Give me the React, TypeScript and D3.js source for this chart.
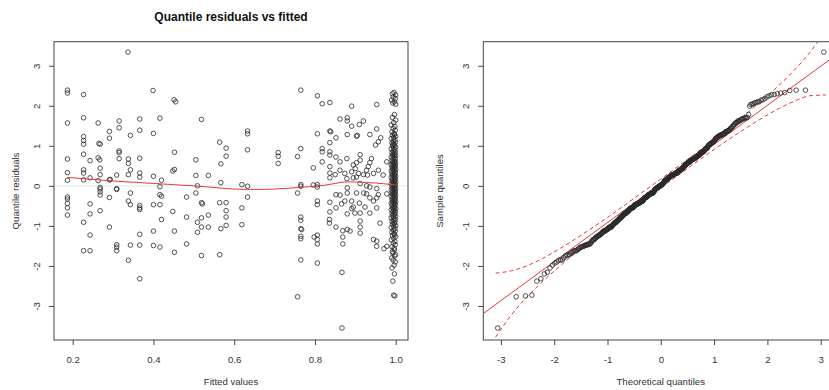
import { useEffect, useRef } from 'react';
import * as d3 from 'd3';

const width = 829;
const height = 390;

// [fitted value, quantile residual]
const lowFittedPoints: [number, number][] = [
  [0.337, 3.34], [0.187, 2.39], [0.187, 2.32], [0.227, 2.28], [0.399, 2.38], [0.451, 2.15], [0.455, 2.1],
  [0.187, 1.57], [0.227, 1.7], [0.263, 1.57], [0.315, 1.62], [0.315, 1.45], [0.291, 1.36], [0.291, 1.19],
  [0.343, 1.26], [0.366, 1.67], [0.366, 1.39], [0.416, 1.69], [0.4, 1.31], [0.519, 1.66], [0.227, 1.23],
  [0.227, 1.13], [0.227, 1.04], [0.265, 1.06], [0.268, 1.04], [0.315, 0.87], [0.315, 0.83], [0.227, 0.79],
  [0.187, 0.67], [0.243, 0.63], [0.263, 0.7], [0.267, 0.65], [0.315, 0.68], [0.338, 0.67], [0.338, 0.56],
  [0.366, 0.69], [0.452, 0.84], [0.505, 0.65], [0.564, 1.09], [0.58, 0.94], [0.58, 0.74], [0.567, 0.55],
  [0.187, 0.33], [0.227, 0.4], [0.227, 0.32], [0.268, 0.44], [0.268, 0.28], [0.343, 0.4], [0.338, 0.28],
  [0.309, 0.27], [0.366, 0.32], [0.366, 0.22], [0.4, 0.24], [0.448, 0.37], [0.452, 0.41], [0.505, 0.26],
  [0.536, 0.26], [0.187, 0.14], [0.227, 0.15], [0.243, 0.2], [0.263, 0.13], [0.291, 0.15], [0.293, 0.16],
  [0.42, 0.14], [0.567, 0.08], [0.268, -0.04], [0.268, -0.08], [0.309, -0.07], [0.416, -0.02], [0.509, 0.0],
  [0.187, -0.28], [0.187, -0.33], [0.187, -0.44], [0.187, -0.55], [0.187, -0.73], [0.268, -0.15], [0.268, -0.23],
  [0.309, -0.09], [0.291, -0.29], [0.343, -0.18], [0.338, -0.38], [0.343, -0.47], [0.366, -0.49], [0.366, -0.55],
  [0.366, -0.59], [0.416, -0.22], [0.42, -0.26], [0.4, -0.47], [0.416, -0.47], [0.243, -0.45], [0.243, -0.7],
  [0.268, -0.62], [0.227, -0.91], [0.291, -1.03], [0.243, -1.23], [0.227, -1.62], [0.243, -1.62], [0.309, -1.47],
  [0.309, -1.53], [0.309, -1.62], [0.343, -1.48], [0.366, -1.48], [0.366, -1.21], [0.4, -1.13], [0.4, -1.49],
  [0.416, -1.53], [0.42, -0.84], [0.448, -0.64], [0.452, -1.13], [0.452, -1.66], [0.338, -1.86], [0.366, -2.32],
  [0.482, -0.28], [0.482, -0.78], [0.482, -1.45], [0.505, -0.18], [0.519, -0.42], [0.521, -0.45], [0.519, -0.8],
  [0.509, -0.91], [0.519, -1.03], [0.536, -1.03], [0.509, -1.16], [0.536, -0.73], [0.519, -1.74], [0.564, -0.42],
  [0.58, -0.42], [0.58, -0.62], [0.58, -0.78], [0.567, -1.07], [0.58, -0.99], [0.564, -1.72],
];

const midFittedPoints: [number, number][] = [
  [0.633, 1.37], [0.633, 1.3], [0.633, 0.9], [0.709, 0.83], [0.709, 0.74], [0.709, 0.56], [0.765, 0.93],
  [0.757, 0.73], [0.765, 2.39], [0.765, 0.03], [0.765, -0.01], [0.619, 0.03], [0.633, -0.01], [0.633, -0.28],
  [0.619, -0.55], [0.619, -0.97], [0.757, -0.18], [0.765, -0.78], [0.765, -0.86], [0.765, -1.07], [0.767, -1.09],
  [0.765, -1.26], [0.765, -1.32], [0.765, -1.85], [0.757, -2.77],
];

const highFittedPoints: [number, number][] = [
  [0.806, 2.25], [0.818, 2.05], [0.837, 2.08], [0.891, 1.99], [0.953, 2.03], [0.806, 1.3], [0.837, 1.37],
  [0.839, 1.35], [0.862, 1.67], [0.88, 1.7], [0.88, 1.62], [0.891, 1.49], [0.91, 1.53], [0.92, 1.62],
  [0.852, 1.2], [0.88, 1.28], [0.903, 1.24], [0.905, 1.26], [0.936, 1.28], [0.953, 1.42], [0.963, 1.2],
  [0.957, 1.1], [0.95, 1.02], [0.818, 0.93], [0.818, 0.85], [0.837, 1.08], [0.837, 0.85], [0.837, 0.77],
  [0.852, 0.72], [0.818, 0.6], [0.862, 0.6], [0.879, 0.68], [0.912, 0.78], [0.912, 0.64], [0.903, 0.58],
  [0.895, 0.52], [0.94, 0.68], [0.936, 0.58], [0.932, 0.48], [0.928, 0.39], [0.796, 0.45], [0.837, 0.48],
  [0.862, 0.39], [0.874, 0.31], [0.837, 0.32], [0.85, 0.28], [0.837, 0.2], [0.891, 0.35], [0.9, 0.43],
  [0.908, 0.31], [0.879, 0.18], [0.895, 0.2], [0.903, 0.22], [0.92, 0.28], [0.93, 0.27], [0.945, 0.31],
  [0.957, 0.39], [0.969, 0.27], [0.978, 0.6], [0.796, 0.02], [0.806, 0.03], [0.806, -0.03], [0.88, -0.05],
  [0.912, 0.06], [0.928, 0.0], [0.936, -0.03], [0.953, -0.07],
  [0.806, -0.38], [0.806, -0.47], [0.798, -1.28], [0.806, -1.23], [0.806, -1.34], [0.806, -1.45], [0.806, -1.93],
  [0.837, -0.41], [0.837, -0.65], [0.836, -0.84], [0.836, -0.93], [0.852, -0.22], [0.862, -0.23], [0.852, -0.55],
  [0.866, -0.45], [0.874, -0.38], [0.852, -1.03], [0.869, -1.12], [0.869, -1.28], [0.869, -1.45], [0.88, -0.18],
  [0.88, -0.7], [0.891, -0.57], [0.903, -0.18], [0.88, -1.09], [0.887, -1.13], [0.867, -2.16], [0.867, -3.55],
  [0.891, -0.38], [0.895, -0.53], [0.91, -0.43], [0.899, -0.68], [0.912, -0.68], [0.912, -0.88], [0.912, -1.03],
  [0.912, -1.18], [0.921, -0.18], [0.928, -0.2], [0.936, -0.3], [0.945, -0.38], [0.953, -0.3], [0.957, -0.22],
  [0.924, -0.53], [0.936, -0.68], [0.953, -0.55], [0.961, -0.93], [0.945, -1.34], [0.953, -1.38], [0.953, -1.51],
  [0.971, -1.57], [0.978, -1.51], [0.978, -0.2],
];

// the dense column at fitted ~ 1.0
const nearOnePoints: [number, number][] = [
  [0.996, 2.33], [0.992, 2.3], [1.0, 2.27], [0.994, 2.22], [0.999, 2.18], [0.99, 2.14], [0.997, 2.1], [0.993, 2.07], [1.0, 2.04],
  [0.998, -2.75], [0.995, -2.73], [0.993, -2.38], [0.997, -2.2], [0.991, -2.05], [0.996, -1.98], [0.999, -1.9],
  [0.994, -1.85], [0.99, -1.8], [0.997, -1.75], [1.0, -1.72], [0.993, -1.68],
  [0.997, 1.78], [0.992, 1.71], [1.0, 1.64], [0.995, 1.58], [0.989, 1.52],
  [0.998, 1.48], [0.994, 1.44], [0.999, 1.39], [0.991, 1.35], [0.996, 1.31], [0.997, 1.28], [0.992, 1.26],
  [1.0, 1.24], [0.995, 1.21], [0.989, 1.18], [0.998, 1.15], [0.994, 1.12], [0.999, 1.09], [0.991, 1.07], [0.996, 1.05], [0.993, 1.03], [0.997, 1.01],
  [0.992, 0.99], [1.0, 0.97], [0.995, 0.94], [0.989, 0.92], [0.998, 0.9], [0.994, 0.87], [0.999, 0.85], [0.991, 0.83], [0.996, 0.81], [0.997, 0.79], [0.992, 0.77], [1.0, 0.76],
  [0.995, 0.74], [0.989, 0.72], [0.998, 0.7], [0.994, 0.68], [0.999, 0.66], [0.991, 0.64], [0.996, 0.62], [0.997, 0.6], [0.992, 0.58], [1.0, 0.57], [0.995, 0.55], [0.989, 0.53], [0.998, 0.52], [0.994, 0.51],
  [0.999, 0.49], [0.991, 0.47], [0.996, 0.46], [0.997, 0.44], [0.992, 0.42], [1.0, 0.41], [0.995, 0.39], [0.989, 0.37], [0.998, 0.35], [0.994, 0.34], [0.999, 0.32], [0.991, 0.3], [0.996, 0.29], [0.997, 0.27], [0.992, 0.26],
  [1.0, 0.24], [0.995, 0.23], [0.989, 0.21], [0.998, 0.2], [0.994, 0.18], [0.999, 0.17], [0.991, 0.15], [0.996, 0.13], [0.997, 0.12], [0.992, 0.1], [1.0, 0.09], [0.995, 0.07], [0.989, 0.05], [0.998, 0.04], [0.994, 0.02], [0.999, 0.01],
  [0.991, -0.01], [0.996, -0.03], [0.997, -0.04], [0.992, -0.06], [1.0, -0.07], [0.995, -0.09], [0.989, -0.1], [0.998, -0.12], [0.994, -0.14], [0.999, -0.15], [0.991, -0.17], [0.996, -0.18], [0.997, -0.2], [0.992, -0.21], [1.0, -0.23], [0.995, -0.24],
  [0.989, -0.26], [0.998, -0.28], [0.994, -0.29], [0.999, -0.31], [0.991, -0.33], [0.996, -0.34], [0.997, -0.36], [0.992, -0.38], [1.0, -0.39], [0.995, -0.41], [0.989, -0.43], [0.998, -0.44], [0.994, -0.46], [0.999, -0.47], [0.991, -0.49],
  [0.996, -0.51], [0.997, -0.53], [0.992, -0.55], [1.0, -0.57], [0.995, -0.58], [0.989, -0.6], [0.998, -0.62], [0.994, -0.64], [0.999, -0.66], [0.991, -0.68], [0.996, -0.7], [0.997, -0.72], [0.992, -0.74],
  [1.0, -0.76], [0.995, -0.78], [0.989, -0.8], [0.998, -0.83], [0.994, -0.85], [0.999, -0.87], [0.991, -0.89], [0.996, -0.92], [0.997, -0.94], [0.992, -0.96], [1.0, -0.99],
  [0.995, -1.01], [0.989, -1.04], [0.998, -1.07], [0.994, -1.1], [0.999, -1.13], [0.991, -1.16], [0.996, -1.19], [0.997, -1.22], [0.992, -1.24],
  [1.0, -1.27], [0.995, -1.31], [0.989, -1.35], [0.998, -1.39], [0.994, -1.43], [0.999, -1.47],
  [0.991, -1.52], [0.996, -1.56], [0.997, -1.6], [0.992, -1.64],
];

// red smoother on the left panel
const smoothLine: [number, number][] = [
  [0.187, 0.21], [0.25, 0.16], [0.3, 0.12], [0.35, 0.09], [0.4, 0.06], [0.45, 0.03], [0.5, 0.0],
  [0.55, -0.04], [0.6, -0.08], [0.65, -0.09], [0.7, -0.08], [0.76, -0.04], [0.82, 0.01], [0.85, 0.06],
  [0.88, 0.1], [0.91, 0.09], [0.95, 0.07], [1.0, 0.02],
];

// right panel reference line and dashed envelope
const qqLineEnds: [number, number][] = [[-3.33, -3.19], [3.33, 3.31]];
const bandX = [-3.1, -2.8, -2.5, -2.2, -1.8, -1.4, -1, -0.5, 0, 0.5, 1, 1.4, 1.8, 2.2, 2.5, 2.8, 3.1];
const bandUpper = [-2.18, -2.12, -1.99, -1.8, -1.49, -1.15, -0.79, -0.31, 0.17, 0.66, 1.16, 1.58, 2.02, 2.49, 2.88, 3.34, 3.9];
const bandLower = [-3.78, -3.22, -2.76, -2.37, -1.9, -1.46, -1.04, -0.54, -0.05, 0.43, 0.91, 1.27, 1.61, 1.92, 2.11, 2.25, 2.27];

const leftXTicks = [0.2, 0.4, 0.6, 0.8, 1.0];
const qqXTicks = [-3, -2, -1, 0, 1, 2, 3];
const yTicks = [-3, -2, -1, 0, 1, 2, 3];

const font = "'Liberation Sans', Arial, sans-serif";
const red = '#e5383f';

function qnorm(p: number): number {
  const a = [-39.69683028665376, 220.9460984245205, -275.9285104469687, 138.357751867269, -30.66479806614716, 2.506628277459239];
  const b = [-54.47609879822406, 161.5858368580409, -155.6989798598866, 66.80131188771972, -13.28068155288572];
  const c = [-0.007784894002430293, -0.3223964580411365, -2.400758277161838, -2.549732539343734, 4.374664141464968, 2.938163982698783];
  const d = [0.007784695709041462, 0.3224671290700398, 2.445134137142996, 3.754408661907416];
  const tail = (q: number) =>
    (((((c[0] * q + c[1]) * q + c[2]) * q + c[3]) * q + c[4]) * q + c[5]) /
    ((((d[0] * q + d[1]) * q + d[2]) * q + d[3]) * q + 1);
  if (p < 0.02425) return tail(Math.sqrt(-2 * Math.log(p)));
  if (p > 1 - 0.02425) return -tail(Math.sqrt(-2 * Math.log(1 - p)));
  const q = p - 0.5;
  const r = q * q;
  return ((((((a[0] * r + a[1]) * r + a[2]) * r + a[3]) * r + a[4]) * r + a[5]) * q) /
    (((((b[0] * r + b[1]) * r + b[2]) * r + b[3]) * r + b[4]) * r + 1);
}

const App = () => {
  const svgRef = useRef<SVGSVGElement>(null);

  useEffect(() => {
    const svg = d3.select(svgRef.current);
    svg.selectAll('*').remove();

    const allPoints = [...lowFittedPoints, ...midFittedPoints, ...highFittedPoints, ...nearOnePoints];
    const sorted = allPoints.map((d) => d[1]).sort((p, q) => p - q);
    const n = sorted.length;
    const qqPoints: [number, number][] = sorted.map((v, i) => [qnorm((i + 1 - 0.5) / n), v]);

    const top = 41.7;
    const bottom = 340;

    const yScale = d3.scaleLinear().domain([-3.85, 3.6]).range([bottom, top]);
    const xLeft = d3.scaleLinear().domain([0.1537, 1.0305]).range([54, 408]);
    const xRight = d3.scaleLinear().domain([-3.33, 3.33]).range([483.3, 838.3]);

    svg.append('rect').attr('width', width).attr('height', height).attr('fill', '#fff');

    const defs = svg.append('defs');
    const addClip = (id: string, x0: number, x1: number) => {
      defs.append('clipPath').attr('id', id)
        .append('rect').attr('x', x0).attr('y', top).attr('width', x1 - x0).attr('height', bottom - top);
    };
    addClip('clip-left', 54, 408);
    addClip('clip-right', 483.3, 838.3);

    const drawAxes = (xScale: d3.ScaleLinear<number, number>, xTicks: number[], fmt: (v: number) => string,
      x0: number, x1: number) => {
      const xAxis = d3.axisBottom(xScale).tickValues(xTicks).tickSize(5).tickFormat((v) => fmt(v as number));
      const gx = svg.append('g').attr('transform', `translate(0,${bottom})`).call(xAxis);
      gx.select('.domain').remove();
      gx.selectAll('.tick line').attr('stroke', '#444');
      gx.selectAll('.tick text')
        .attr('y', 22.7).attr('dy', null)
        .attr('fill', '#333').style('font-family', font).style('font-size', '9.6px');

      const yAxis = d3.axisLeft(yScale).tickValues(yTicks).tickSize(5).tickFormat((v) => String(v));
      const gy = svg.append('g').attr('transform', `translate(${x0},0)`).call(yAxis);
      gy.select('.domain').remove();
      gy.selectAll('.tick line').attr('stroke', '#444');
      gy.selectAll('.tick text')
        .attr('x', null).attr('dy', null)
        .attr('transform', 'translate(-14,0) rotate(-90)')
        .attr('text-anchor', 'middle')
        .attr('fill', '#333').style('font-family', font).style('font-size', '9.6px');

      svg.append('rect')
        .attr('x', x0).attr('y', top).attr('width', x1 - x0).attr('height', bottom - top)
        .attr('fill', 'none').attr('stroke', '#444').attr('stroke-width', 1);
    };

    const drawPoints = (g: d3.Selection<SVGGElement, unknown, null, undefined>, data: [number, number][],
      xScale: d3.ScaleLinear<number, number>) => {
      g.selectAll('circle.pt')
        .data(data)
        .enter()
        .append('circle')
        .attr('class', 'pt')
        .attr('cx', (d) => xScale(d[0]))
        .attr('cy', (d) => yScale(d[1]))
        .attr('r', 2.3)
        .attr('fill', 'none')
        .attr('stroke', '#2a2a2a')
        .attr('stroke-width', 0.8);
    };

    // left panel
    const left = svg.append('g').attr('clip-path', 'url(#clip-left)');
    left.append('line')
      .attr('x1', 54).attr('x2', 408).attr('y1', yScale(0)).attr('y2', yScale(0))
      .attr('stroke', '#d6eef2').attr('stroke-width', 1);
    drawPoints(left, allPoints, xLeft);
    const smooth = d3.line<[number, number]>().curve(d3.curveMonotoneX)
      .x((d) => xLeft(d[0])).y((d) => yScale(d[1]));
    left.append('path').attr('d', smooth(smoothLine)).attr('fill', 'none')
      .attr('stroke', red).attr('stroke-width', 1);
    drawAxes(xLeft, leftXTicks, d3.format('.1f'), 54, 408);

    // right panel
    const right = svg.append('g').attr('clip-path', 'url(#clip-right)');
    const qqLine = d3.line<[number, number]>().x((d) => xRight(d[0])).y((d) => yScale(d[1]));
    right.append('path').attr('d', qqLine(qqLineEnds)).attr('fill', 'none')
      .attr('stroke', red).attr('stroke-width', 1);
    const band = d3.line<[number, number]>().curve(d3.curveMonotoneX)
      .x((d) => xRight(d[0])).y((d) => yScale(d[1]));
    [bandUpper, bandLower].forEach((vals) => {
      right.append('path')
        .attr('d', band(bandX.map((x, i) => [x, vals[i]] as [number, number])))
        .attr('fill', 'none').attr('stroke', red).attr('stroke-width', 1)
        .attr('stroke-dasharray', '4,3');
    });
    drawPoints(right, qqPoints, xRight);
    drawAxes(xRight, qqXTicks, (v) => String(v), 483.3, 838.3);

    // titles
    svg.append('text')
      .attr('x', 231).attr('y', 21)
      .attr('text-anchor', 'middle')
      .style('font-family', font).style('font-size', '12px').style('font-weight', 'bold')
      .attr('fill', '#111')
      .text('Quantile residuals vs fitted');

    const axisTitle = (x: number, y: number, label: string, rotate: boolean) => {
      svg.append('text')
        .attr('transform', rotate ? `translate(${x},${y}) rotate(-90)` : `translate(${x},${y})`)
        .attr('text-anchor', 'middle')
        .style('font-family', font).style('font-size', '9.6px')
        .attr('fill', '#333')
        .text(label);
    };
    axisTitle(231, 385, 'Fitted values', false);
    axisTitle(660.7, 385, 'Theoretical quantiles', false);
    axisTitle(18.7, 191, 'Quantile residuals', true);
    axisTitle(443, 191, 'Sample quantiles', true);
  }, []);

  return (
    <svg
      ref={svgRef}
      width={width}
      height={height}
      style={{ position: 'absolute', left: 0, top: 0, display: 'block' }}
    />
  );
};

export default App;
